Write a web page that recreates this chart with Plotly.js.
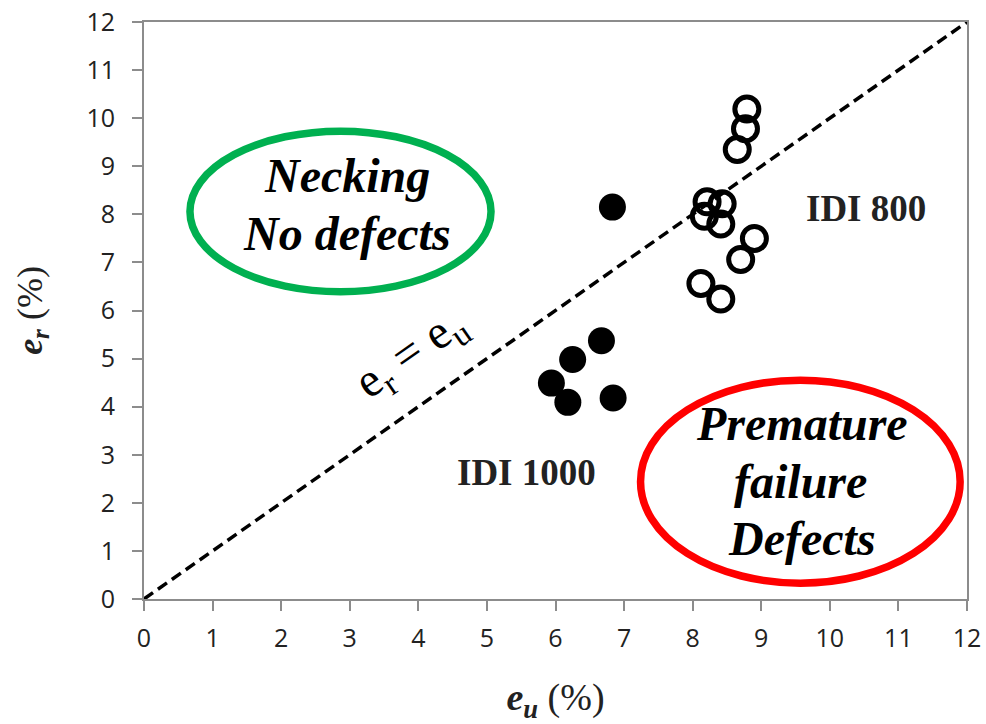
<!DOCTYPE html>
<html>
<head>
<meta charset="utf-8">
<script src="https://cdn.plot.ly/plotly-3.0.1.min.js"></script>
<style>html,body{margin:0;padding:0;background:#fff;}#chart{width:986px;height:724px;}</style>
</head>
<body>
<div id="chart"></div>
<script>
// IDI 1000 (filled markers)
const idi1000_eu = [6.83, 6.67, 6.25, 5.94, 6.18, 6.84];
const idi1000_er = [8.15, 5.37, 4.98, 4.49, 4.09, 4.18];
// IDI 800 (open markers)
const idi800_eu = [8.79, 8.77, 8.65, 8.21, 8.43, 8.17, 8.41, 8.90, 8.70, 8.12, 8.41];
const idi800_er = [10.19, 9.78, 9.35, 8.26, 8.22, 7.96, 7.80, 7.50, 7.06, 6.56, 6.24];
// reference line er = eu
const line_x = [0, 12];
const line_y = [0, 12];
const tickVals = [0,1,2,3,4,5,6,7,8,9,10,11,12];

const serif = "Liberation Serif, Times New Roman, serif";
const traces = [
  {x: line_x, y: line_y, mode: 'lines', type: 'scatter', line: {color: '#000', width: 3.5, dash: '11px,6px'}, hoverinfo: 'skip'},
  {x: idi1000_eu, y: idi1000_er, mode: 'markers', type: 'scatter', name: 'IDI 1000',
   marker: {symbol: 'circle', size: 27, color: '#000', line: {width: 0}}},
  {x: idi800_eu, y: idi800_er, mode: 'markers', type: 'scatter', name: 'IDI 800',
   marker: {symbol: 'circle-open', size: 24, color: '#000', line: {width: 5, color: '#000'}}}
];

const axisCommon = {
  range: [0, 12], tickvals: tickVals, showgrid: false, zeroline: false,
  showline: true, linecolor: '#8c8c8c', linewidth: 2, mirror: true,
  ticks: 'outside', ticklen: 10, tickwidth: 2, tickcolor: '#8c8c8c',
  tickfont: {family: 'Open Sans, Liberation Sans, sans-serif', size: 25, color: '#222'}
};

const bigFont = {family: serif, size: 48, color: '#000'};
const layout = {
  width: 986, height: 724,
  margin: {l: 144, r: 19, t: 22, b: 125},
  paper_bgcolor: '#fff', plot_bgcolor: '#fff',
  showlegend: false,
  xaxis: Object.assign({}, axisCommon, {
    ticklabelstandoff: 6,
    title: {text: '<b><i>e<sub>u</sub></i></b> (%)', font: {family: serif, size: 38, color: '#222'}, standoff: 38}
  }),
  yaxis: Object.assign({}, axisCommon, {
    ticklabelstandoff: 12,
    title: {text: '<b><i>e<sub>r</sub></i></b> (%)', font: {family: serif, size: 36, color: '#222'}, standoff: 33}
  }),
  shapes: [
    {type: 'circle', xref: 'x', yref: 'y', x0: 0.67, x1: 5.06, y0: 6.39, y1: 9.73,
     line: {color: '#00b050', width: 7.5}},
    {type: 'circle', xref: 'x', yref: 'y', x0: 7.24, x1: 11.9, y0: 0.33, y1: 4.55,
     line: {color: '#ff0000', width: 7.5}}
  ],
  annotations: [
    {x: 2.96, y: 8.80, xref: 'x', yref: 'y', showarrow: false, text: '<b><i>Necking</i></b>', font: bigFont},
    {x: 2.96, y: 7.61, xref: 'x', yref: 'y', showarrow: false, text: '<b><i>No defects</i></b>', font: bigFont},
    {x: 9.59, y: 3.64, xref: 'x', yref: 'y', showarrow: false, text: '<b><i>Premature</i></b>', font: bigFont},
    {x: 9.57, y: 2.45, xref: 'x', yref: 'y', showarrow: false, text: '<b><i>failure</i></b>', font: bigFont},
    {x: 9.59, y: 1.25, xref: 'x', yref: 'y', showarrow: false, text: '<b><i>Defects</i></b>', font: bigFont},
    {x: 10.53, y: 8.13, xref: 'x', yref: 'y', showarrow: false,
     text: '<b>IDI 800</b>', font: {family: serif, size: 37, color: '#222'}},
    {x: 5.58, y: 2.64, xref: 'x', yref: 'y', showarrow: false,
     text: '<b>IDI 1000</b>', font: {family: serif, size: 37, color: '#222'}},
    {x: 3.9, y: 5.1, xref: 'x', yref: 'y', showarrow: false, textangle: -35,
     text: 'e<sub>r</sub> = e<sub>u</sub>', font: {family: serif, size: 48, color: '#000'}}
  ]
};

Plotly.newPlot('chart', traces, layout, {displayModeBar: false, staticPlot: true});
</script>
</body>
</html>
